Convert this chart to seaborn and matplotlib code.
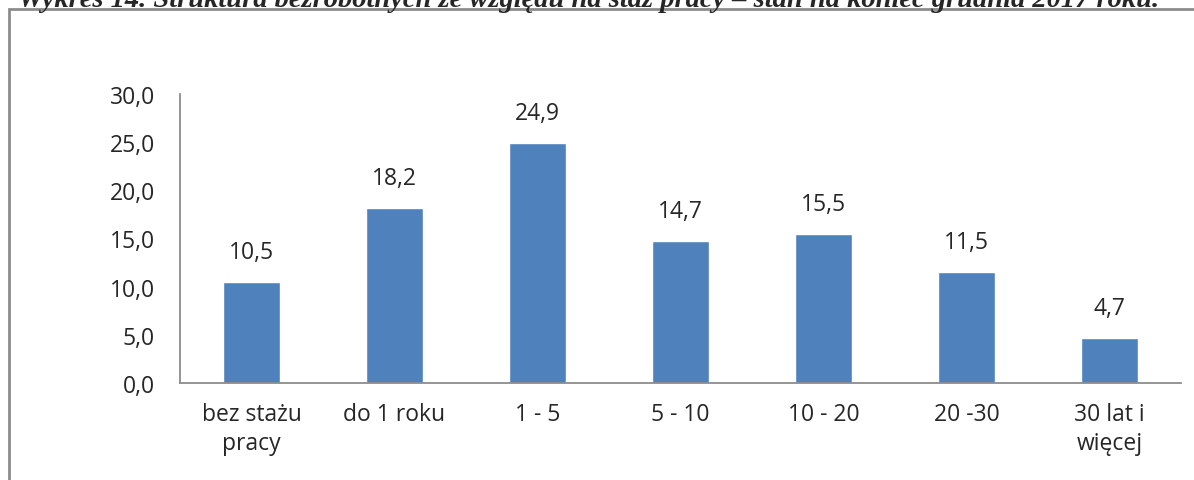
import matplotlib
matplotlib.use("Agg")
import matplotlib.pyplot as plt
import seaborn as sns
import pandas as pd
from matplotlib.patches import Rectangle

# dane
kategorie = ["bez stażu\npracy", "do 1 roku", "1 - 5", "5 - 10", "10 - 20", "20 -30", "30 lat i\nwięcej"]
wartosci = [10.5, 18.2, 24.9, 14.7, 15.5, 11.5, 4.7]
tytul = "Wykres 14. Struktura bezrobotnych ze względu na staż pracy – stan na koniec grudnia 2017 roku."

df = pd.DataFrame({"kategoria": kategorie, "udzial": wartosci})

sns.set_style("white")
plt.rcParams["font.family"] = ["Open Sans", "DejaVu Sans"]
fs = 16.5

W, H = 1194, 481
fig = plt.figure(figsize=(W / 100, H / 100), dpi=100)
ax = fig.add_axes([180 / W, 1 - 384 / H, (1181 - 180) / W, (384 - 95) / H])

sns.barplot(data=df, x="kategoria", y="udzial", color="#4F81BD", width=0.4,
            saturation=1, ax=ax)

ax.set_ylim(0, 30)
ax.set_yticks(range(0, 31, 5))
ax.set_yticklabels([f"{v:.1f}".replace(".", ",") for v in range(0, 31, 5)], fontsize=fs)
ax.tick_params(axis="x", labelsize=fs, length=0, pad=14)
ax.tick_params(axis="y", length=0, pad=18)
ax.set_xlabel("")
ax.set_ylabel("")
ax.set_xlim(-0.5, len(kategorie) - 0.5)
for lab in ax.get_xticklabels():
    lab.set_linespacing(1.25)

for s in ["top", "right"]:
    ax.spines[s].set_visible(False)
for s in ["left", "bottom"]:
    ax.spines[s].set_color("#8c8c8c")
    ax.spines[s].set_linewidth(1.3)

for i, v in enumerate(wartosci):
    ax.annotate(f"{v:.1f}".replace(".", ","), (i, v), xytext=(0, 13),
                textcoords="offset points", ha="center", va="bottom", fontsize=fs)

# ramka wykresu
fig.patches.append(Rectangle((9 / W, -0.1), 1.2, 1 - 10 / H + 0.1, transform=fig.transFigure,
                             fill=False, edgecolor="#8c8c8c", linewidth=2))

# tytuł (ucięty u góry)
fig.text(18 / W, 1 - 7 / H, tytul, family="Liberation Serif", weight="bold", style="italic",
         fontsize=20.5, ha="left", va="baseline")

fig.savefig("out.png", dpi=100)
